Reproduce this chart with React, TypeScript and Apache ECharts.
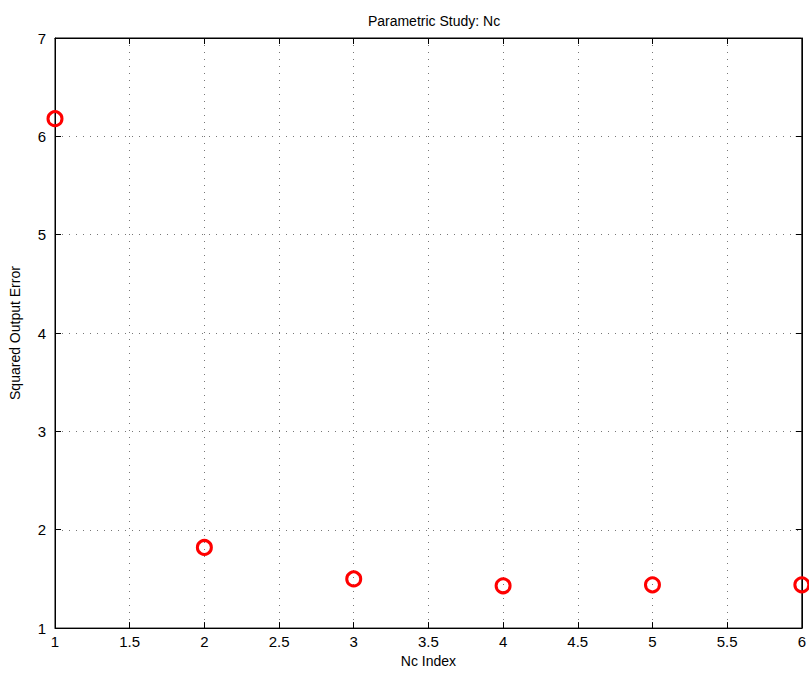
import React, { useEffect, useRef } from "react";
import * as echarts from "echarts";

const titleText = "Parametric Study: Nc";
const xName = "Nc Index";
const yName = "Squared Output Error";
const ncIndex = [1, 2, 3, 4, 5, 6];
const errorValues = [6.18, 1.82, 1.5, 1.43, 1.44, 1.44];

export default function App() {
  const ref = useRef<HTMLDivElement>(null);
  useEffect(() => {
    document.body.style.margin = "0";
    const chart = echarts.init(ref.current!, null, { renderer: "svg" });
    const font = "'Liberation Sans', Arial, Helvetica, sans-serif";
    const grid = { show: true, left: 52, right: 4, top: 38, bottom: 43, borderColor: "#000", borderWidth: 1 };
    const splitLine = { show: true, lineStyle: { color: "#777", type: [1, 6] as any, width: 1 } };
    const tick = { show: true, inside: true, length: 6, lineStyle: { color: "#000" } };
    chart.setOption({
      animation: false,
      backgroundColor: "#fff",
      title: {
        text: titleText,
        left: 429,
        textAlign: "center",
        top: 9,
        textStyle: { fontFamily: font, fontSize: 14, fontWeight: "normal", color: "#000" },
      },
      grid,
      xAxis: [
        {
          type: "value",
          min: 1,
          max: 6,
          interval: 0.5,
          name: xName,
          nameLocation: "middle",
          nameGap: 24,
          nameTextStyle: { fontFamily: font, fontSize: 14, color: "#000" },
          axisLine: { show: true, lineStyle: { color: "#000" } },
          axisTick: tick,
          axisLabel: { fontFamily: font, fontSize: 15, color: "#000", margin: 6 },
          splitLine,
        },
        {
          type: "value",
          position: "top",
          min: 1,
          max: 6,
          interval: 0.5,
          axisLine: { show: true, lineStyle: { color: "#000" } },
          axisTick: tick,
          axisLabel: { show: false },
          splitLine: { show: false },
        },
      ],
      yAxis: [
        {
          type: "value",
          min: 1,
          max: 7,
          interval: 1,
          name: yName,
          nameLocation: "middle",
          nameGap: 33,
          nameTextStyle: { fontFamily: font, fontSize: 14, color: "#000" },
          axisLine: { show: true, lineStyle: { color: "#000" } },
          axisTick: tick,
          axisLabel: { fontFamily: font, fontSize: 15, color: "#000", margin: 9 },
          splitLine,
        },
        {
          type: "value",
          position: "right",
          min: 1,
          max: 7,
          interval: 1,
          axisLine: { show: true, lineStyle: { color: "#000" } },
          axisTick: tick,
          axisLabel: { show: false },
          splitLine: { show: false },
        },
      ],
      series: [
        {
          type: "scatter",
          xAxisIndex: 0,
          yAxisIndex: 0,
          data: ncIndex.map((x, i) => [x, errorValues[i]]),
          symbol: "circle",
          symbolSize: 14,
          itemStyle: { color: "rgba(0,0,0,0)", borderColor: "#ff0000", borderWidth: 3, opacity: 1 },
          emphasis: { disabled: true },
          clip: false,
        },
      ],
    });
    return () => chart.dispose();
  }, []);
  return <div ref={ref} style={{ width: 809, height: 673 }} />;
}
